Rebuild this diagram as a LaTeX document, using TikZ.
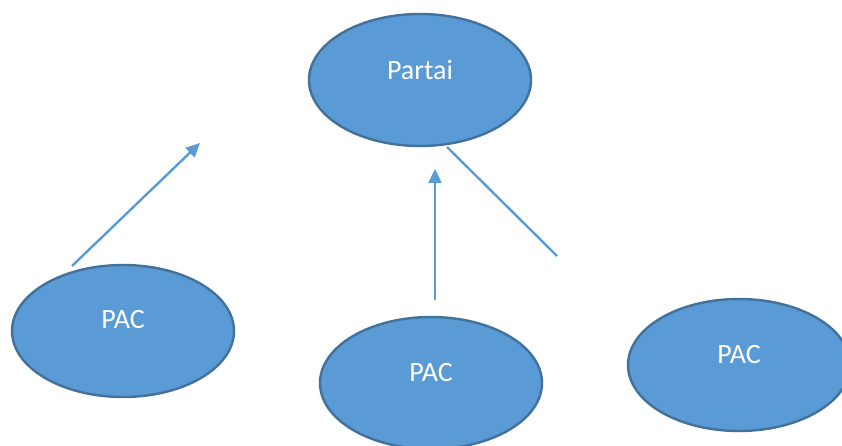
\documentclass[tikz,border=0pt]{standalone}
\usepackage{fontspec}
\setmainfont{Carlito}
\usepackage{tikz}
\usetikzlibrary{arrows.meta,shapes.geometric}
\definecolor{bubblefill}{HTML}{5B9BD5}
\definecolor{bubbleedge}{HTML}{41719C}

\begin{document}
\begin{tikzpicture}[x=1pt,y=-1pt,
    bubble/.style={ellipse,draw=bubbleedge,fill=bubblefill,line width=2.4pt,
      minimum width=222pt,minimum height=132pt,inner sep=0pt},
    bubbletext/.style={text=white,font=\fontsize{28}{30}\selectfont},
    link/.style={draw=bubblefill,line width=2.4pt},
    linkarrow/.style={link,-{Triangle[length=14pt,width=13pt]}}
  ]
  % Page size of the reference
  \useasboundingbox (0,0) rectangle (842,446);

  % The party on top and the three PACs below it
  \node[bubble] (partai) at (420,80) {};
  \node[bubble] (pacleft) at (123,331) {};
  \node[bubble] (pacmid) at (431,383) {};
  \node[bubble] (pacright) at (739,365) {};

  % Labels sit a little above the middle of each ellipse
  \node[bubbletext] (partaitext) at ([yshift=10pt]partai.center) {Partai};
  \node[bubbletext] (paclefttext) at ([yshift=11pt]pacleft.center) {PAC};
  \node[bubbletext] (pacmidtext) at ([yshift=10pt]pacmid.center) {PAC};
  \node[bubbletext] (pacrighttext) at ([yshift=10pt]pacright.center) {PAC};

  % Free ends of the connectors
  \coordinate (leftfoot) at (72,266);
  \coordinate (lefttip) at (200,143);
  \coordinate (midfoot) at (435,300);
  \coordinate (midtip) at (435,169);
  \coordinate (rightend) at (557,256);
  \coordinate (partaibottom) at (447,147);

  \draw[linkarrow] (leftfoot) -- (lefttip);
  \draw[linkarrow] (midfoot) -- (midtip);
  \draw[link] (partaibottom) -- (rightend);
\end{tikzpicture}
\end{document}
